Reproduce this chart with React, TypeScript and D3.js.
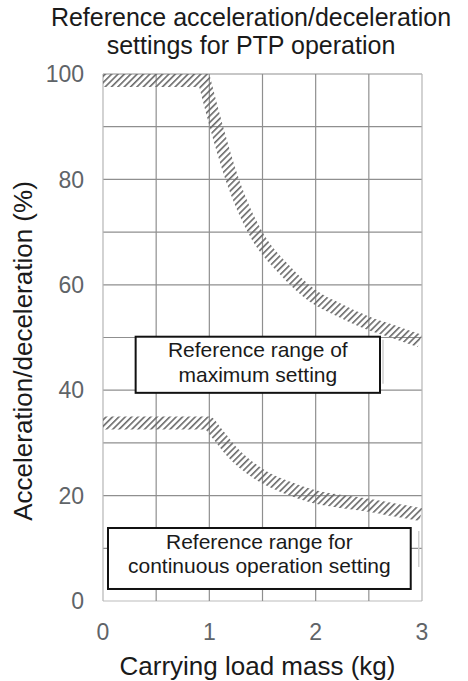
import React from "react";
import * as d3 from "d3";

// ---- data ----
const titleLines = ["Reference acceleration/deceleration", "settings for PTP operation"];
const xTicks = [0, 1, 2, 3];
const yTicks = [0, 20, 40, 60, 80, 100];
const xGrid = [0, 0.5, 1, 1.5, 2, 2.5, 3];
const yGrid = [0, 10, 20, 30, 40, 50, 60, 70, 80, 90, 100];

// maximum setting boundary (load mass kg, acc/dec %)
const maxMass = [0, 1, 1.13, 1.28, 1.5, 1.75, 2, 2.25, 2.5, 2.75, 3];
const maxAcc = [100, 100, 90, 80, 70, 63.7, 59, 56.3, 54, 52.3, 50.5];

// continuous operation boundary
const contMass = [0, 1, 1.13, 1.25, 1.5, 1.75, 2, 2.25, 2.5, 2.75, 3];
const contAcc = [35, 35, 32.3, 29.3, 25.1, 22.7, 21, 20.1, 19.4, 18.5, 17.6];

const boxLabels = [
  ["Reference range of", "maximum setting"],
  ["Reference range for", "continuous operation setting"],
];

const FONT = "'Liberation Sans', Arial, Helvetica, sans-serif";

export default function App() {
  const W = 468;
  const H = 681;
  const x = d3.scaleLinear().domain([0, 3]).range([103, 422]);
  const y = d3.scaleLinear().domain([0, 100]).range([601, 74]);

  const maxPts: [number, number][] = maxMass.map((m, i) => [m, maxAcc[i]]);
  const contPts: [number, number][] = contMass.map((m, i) => [m, contAcc[i]]);

  const curve = d3
    .line<[number, number]>()
    .x((d) => x(d[0]))
    .y((d) => y(d[1]))
    .curve(d3.curveMonotoneX);

  // max: sharp corner at (1,100)
  const maxPath =
    `M${x(maxPts[0][0])},${y(maxPts[0][1])}` + (curve(maxPts.slice(1)) || "").replace(/^M/, "L");
  const contPath = curve(contPts) || "";

  const underClip = (p: string) => `${p}L${x(3)},${y(0)}L${x(0)},${y(0)}Z`;

  // annotation boxes in data units
  const boxes = [
    { x0: 0.307, x1: 2.605, yTop: 50.15, yBot: 39.5, lines: boxLabels[0], base: [357, 382] },
    { x0: 0.047, x1: 2.894, yTop: 13.85, yBot: 2.28, lines: boxLabels[1], base: [549, 573] },
  ];

  return (
    <svg
      width={W}
      height={H}
      style={{ position: "absolute", left: 0, top: 0, background: "#fff" }}
      fontFamily={FONT}
    >
      <defs>
        <pattern id="hatch" patternUnits="userSpaceOnUse" width={4.5} height={4.5} patternTransform="rotate(45)">
          <line x1={0.8} y1={0} x2={0.8} y2={4.5} stroke="#6a6a6a" strokeWidth={1.6} />
        </pattern>
        <clipPath id="clipMax">
          <path d={underClip(maxPath)} />
        </clipPath>
        <clipPath id="clipCont">
          <path d={underClip(contPath)} />
        </clipPath>
      </defs>

      <rect x={0} y={0} width={W} height={H} fill="#fff" />

      {/* title */}
      {titleLines.map((t, i) => (
        <text key={i} x={251} y={26 + i * 28} textAnchor="middle" fontSize={25} fill="#1a1a1a">
          {t}
        </text>
      ))}

      {/* grid */}
      {yGrid.map((v) => (
        <line
          key={"h" + v}
          x1={x(0)}
          x2={x(3)}
          y1={y(v)}
          y2={y(v)}
          stroke={v === 0 ? "#bbbbbb" : "#8f8f8f"}
          strokeWidth={1.2}
        />
      ))}
      {xGrid.map((v) => (
        <line
          key={"v" + v}
          x1={x(v)}
          x2={x(v)}
          y1={y(0)}
          y2={y(100)}
          stroke={v === 0 || v === 3 ? "#b5b5b5" : "#8f8f8f"}
          strokeWidth={1.2}
        />
      ))}

      {/* hatched bands */}
      <path
        d={maxPath}
        fill="none"
        stroke="url(#hatch)"
        strokeWidth={26}
        strokeLinejoin="round"
        clipPath="url(#clipMax)"
      />
      <path
        d={contPath}
        fill="none"
        stroke="url(#hatch)"
        strokeWidth={26}
        strokeLinejoin="round"
        clipPath="url(#clipCont)"
      />

      {/* annotation boxes */}
      {boxes.map((b, i) => (
        <g key={"b" + i}>
          <line
            x1={x(b.x1) + (i === 0 ? 3 : 8)}
            x2={x(b.x1) + (i === 0 ? 3 : 8)}
            y1={y(b.yTop) + 3}
            y2={y(b.yBot) - (i === 0 ? 9 : 22)}
            stroke="#cfcfcf"
            strokeWidth={1.5}
          />
          <rect
            x={x(b.x0)}
            y={y(b.yTop)}
            width={x(b.x1) - x(b.x0)}
            height={y(b.yBot) - y(b.yTop)}
            fill="#fff"
            stroke="#111"
            strokeWidth={2}
          />
          {b.lines.map((t, j) => (
            <text
              key={j}
              x={(x(b.x0) + x(b.x1)) / 2}
              y={b.base[j]}
              textAnchor="middle"
              fontSize={21}
              fill="#1a1a1a"
            >
              {t}
            </text>
          ))}
        </g>
      ))}

      {/* y tick labels */}
      {yTicks.map((v) => (
        <text key={"yt" + v} x={84} y={y(v)} dy="0.36em" textAnchor="end" fontSize={23} fill="#5f6468">
          {v}
        </text>
      ))}
      {/* x tick labels */}
      {xTicks.map((v) => (
        <text key={"xt" + v} x={x(v)} y={640} textAnchor="middle" fontSize={23} fill="#5f6468">
          {v}
        </text>
      ))}

      {/* axis titles */}
      <text x={257.5} y={675} textAnchor="middle" fontSize={26} fill="#1a1a1a">
        Carrying load mass (kg)
      </text>
      <text
        transform={`translate(32,351) rotate(-90)`}
        textAnchor="middle"
        fontSize={26}
        fill="#1a1a1a"
      >
        Acceleration/deceleration (%)
      </text>
    </svg>
  );
}
